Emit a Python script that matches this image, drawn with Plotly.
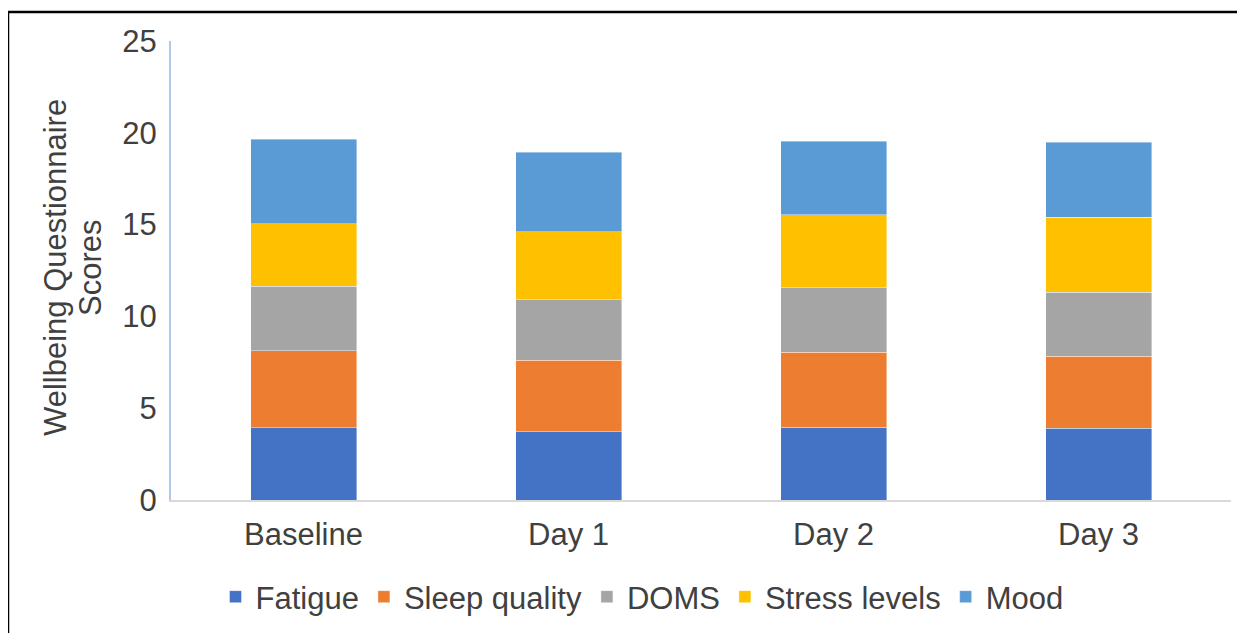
import plotly.graph_objects as go

categories = ["Baseline", "Day 1", "Day 2", "Day 3"]
fatigue = [3.93, 3.71, 3.96, 3.92]
sleep_quality = [4.19, 3.90, 4.08, 3.91]
doms = [3.52, 3.31, 3.51, 3.49]
stress_levels = [3.41, 3.70, 3.99, 4.08]
mood = [4.59, 4.31, 4.01, 4.08]
y_title_lines = ["Wellbeing Questionnaire", "Scores"]

series = [
    ("Fatigue", fatigue, "#4472C4"),
    ("Sleep quality", sleep_quality, "#ED7D31"),
    ("DOMS", doms, "#A5A5A5"),
    ("Stress levels", stress_levels, "#FFC000"),
    ("Mood", mood, "#5B9BD5"),
]

FONT = "Liberation Sans, Arial, sans-serif"
TXT = "#404040"
FS = 31

fig = go.Figure()
for name, vals, col in series:
    fig.add_trace(go.Bar(
        x=categories, y=vals, name=name,
        marker=dict(color=col, line=dict(color="rgba(255,255,255,0.5)", width=0.8)),
    ))

# page is offset by the 8px body margin
OFF = 8
W, H = 1245, 633
L, T = 171 - OFF, 41 - OFF
R = W - (1231 - OFF)
B = H - (500 - OFF)
pw, ph = W - L - R, H - T - B

def px_x(px):
    return (px - OFF - L) / pw

def px_y(py):
    return (H - B - (py - OFF)) / ph

annotations = []
for txt, xpx in zip(y_title_lines, [55, 90]):
    annotations.append(dict(
        text=txt, xref="paper", yref="paper", x=px_x(xpx), y=px_y(268),
        xanchor="center", yanchor="middle", textangle=-90, showarrow=False,
        font=dict(size=FS, color=TXT, family=FONT),
    ))

fig.update_layout(
    width=W, height=H,
    barmode="stack", bargap=0.6,
    margin=dict(l=L, r=R, t=T, b=B, autoexpand=False),
    paper_bgcolor="white", plot_bgcolor="white",
    font=dict(family=FONT, size=FS, color=TXT),
    showlegend=True,
    legend=dict(
        orientation="h", xref="container", yref="container",
        x=(642 - OFF) / W, xanchor="center", y=1 - (597 - OFF) / H, yanchor="middle",
        font=dict(size=FS, color=TXT), traceorder="normal",
        itemwidth=30, bgcolor="rgba(0,0,0,0)",
    ),
    xaxis=dict(
        showgrid=False, showline=True, linecolor="#D9D9D9", linewidth=2,
        ticks="", tickfont=dict(size=FS, color=TXT), ticklabelstandoff=6,
        fixedrange=True,
    ),
    yaxis=dict(
        range=[0, 25], dtick=5, showgrid=False, showline=True,
        linecolor="#B4C7E7", linewidth=2, ticks="", zeroline=False,
        tickfont=dict(size=FS, color=TXT), ticklabelstandoff=6,
        fixedrange=True,
    ),
    annotations=annotations,
    shapes=[
        dict(type="line", xref="paper", yref="paper",
             x0=px_x(8), x1=px_x(8), y0=px_y(12), y1=px_y(700),
             line=dict(color="black", width=2.5)),
        dict(type="line", xref="paper", yref="paper",
             x0=px_x(7), x1=px_x(1300), y0=px_y(12), y1=px_y(12),
             line=dict(color="black", width=2.5)),
    ],
)

fig.write_html("out.html")
